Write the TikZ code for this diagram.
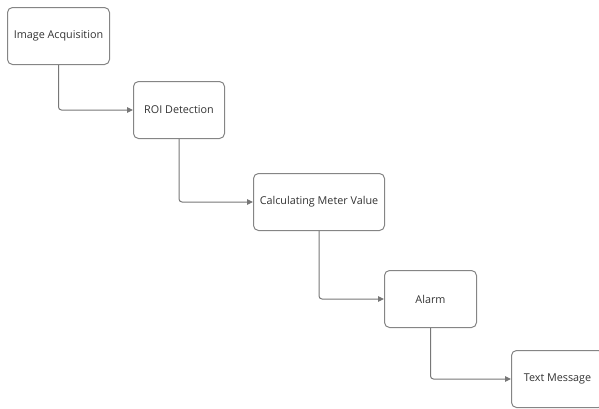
\documentclass[tikz,border=0pt]{standalone}
\usepackage{fontspec}
\setmainfont{Open Sans}
\usetikzlibrary{arrows.meta}
\definecolor{boxline}{HTML}{858585}
\definecolor{wire}{HTML}{777777}
\definecolor{txt}{HTML}{333333}
\begin{document}
\begin{tikzpicture}[x=1pt,y=-1pt,
  stepbox/.style={draw=boxline, line width=1pt, rounded corners=5pt, fill=white,
    text=txt, font=\fontsize{10.8}{13}\selectfont, anchor=north west, inner sep=0pt},
  wireline/.style={draw=wire, line width=1pt, rounded corners=3pt,
    -{Triangle[length=6pt,width=5.5pt]}}]
\useasboundingbox (0,0) rectangle (599,408);
\node[stepbox, minimum width=102pt, minimum height=57pt] (a) at (7,7) {Image Acquisition};
\node[stepbox, minimum width=91pt, minimum height=57pt] (b) at (133,81) {ROI Detection};
\node[stepbox, minimum width=131pt, minimum height=57pt] (c) at (253,173) {Calculating Meter Value};
\node[stepbox, minimum width=92pt, minimum height=57pt] (d) at (384,270) {Alarm};
\node[stepbox, minimum width=92pt, minimum height=57pt] (e) at (511,350) {Text Message};
\draw[wireline] (a.south) |- (b.west);
\draw[wireline] (b.south) |- (c.west);
\draw[wireline] (c.south) |- (d.west);
\draw[wireline] (d.south) |- (e.west);
\end{tikzpicture}
\end{document}
